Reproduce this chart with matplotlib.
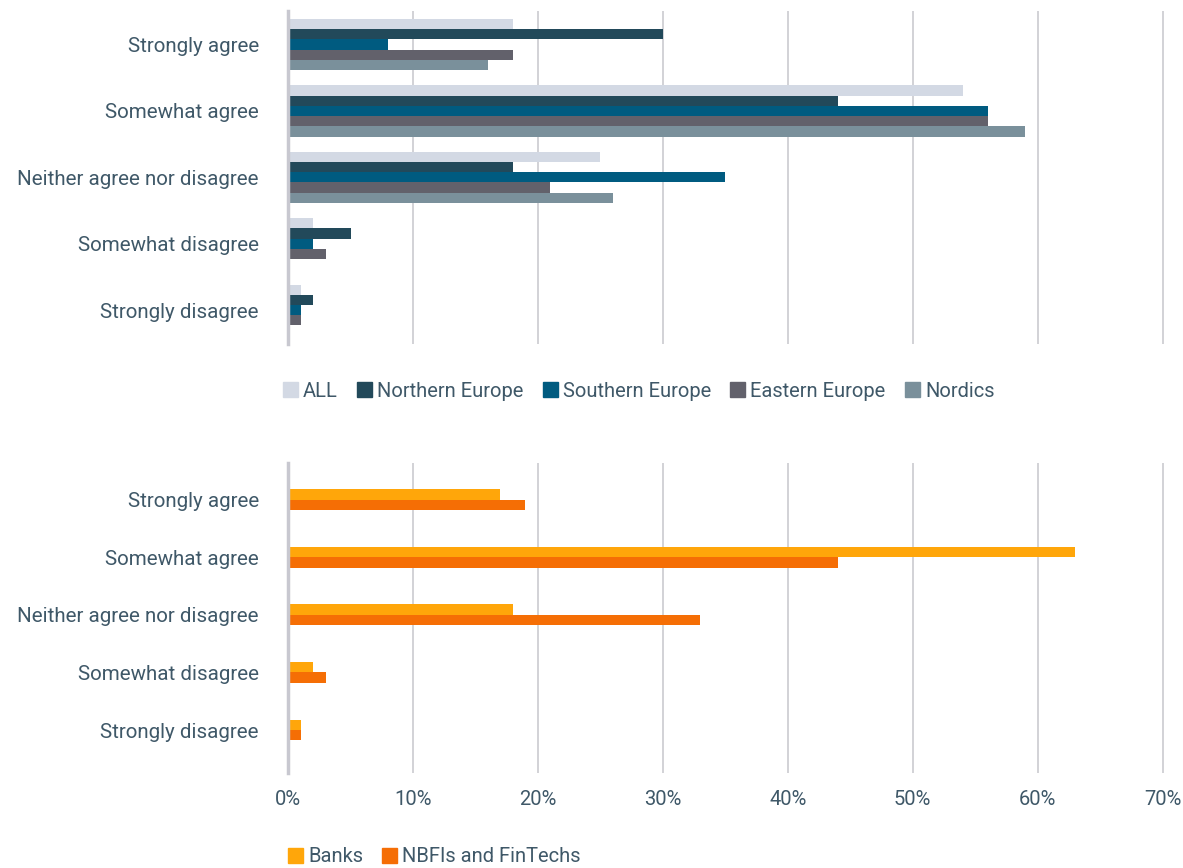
import numpy as np
import matplotlib.pyplot as plt
from matplotlib.patches import Patch

categories = ['Strongly agree', 'Somewhat agree', 'Neither agree nor disagree',
              'Somewhat disagree', 'Strongly disagree']

# top panel: by region (%)
region_names = ['ALL', 'Northern Europe', 'Southern Europe', 'Eastern Europe', 'Nordics']
all_vals = [18, 54, 25, 2, 1]
northern = [30, 44, 18, 5, 2]
southern = [8, 56, 35, 2, 1]
eastern = [18, 56, 21, 3, 1]
nordics = [16, 59, 26, 0, 0]
region_colors = ['#d3d9e4', '#22495a', '#005b80', '#62616b', '#7a909b']

# bottom panel: by institution type (%)
inst_names = ['Banks', 'NBFIs and FinTechs']
banks = [17, 63, 18, 2, 1]
nbfi = [19, 44, 33, 3, 1]
inst_colors = ['#ffa60a', '#f56e05']

TEXT = '#3f5868'
GRID = '#d2d2d6'
plt.rcParams['font.family'] = ['Roboto', 'DejaVu Sans']

fig = plt.figure(figsize=(11.83, 8.68), dpi=100)
ax1 = fig.add_axes([0.2435, 0.6037, 0.7413, 0.3836])
ax2 = fig.add_axes([0.2435, 0.1094, 0.7413, 0.3571])


def style(ax, ylim, show_x):
    ax.set_xlim(0, 70.2)
    ax.set_ylim(*ylim)
    ax.set_xticks(np.arange(0, 71, 10))
    ax.set_xticklabels([f'{v}%' for v in range(0, 71, 10)] if show_x else [])
    ax.set_yticks(range(len(categories)))
    ax.set_yticklabels(categories)
    ax.tick_params(length=0, labelcolor=TEXT)
    ax.tick_params(axis='y', pad=21, labelsize=14.8)
    ax.tick_params(axis='x', pad=12, labelsize=14.5)
    ax.grid(axis='x', color=GRID, linewidth=1.4)
    ax.set_axisbelow(True)
    for s in ['top', 'right', 'bottom']:
        ax.spines[s].set_visible(False)
    ax.spines['left'].set_color('#c8c8d0')
    ax.spines['left'].set_linewidth(2.5)
    ax.spines['left'].set_zorder(5)


y = np.arange(len(categories))

# top chart
h1 = 0.154
series = [all_vals, northern, southern, eastern, nordics]
for i, (vals, col) in enumerate(zip(series, region_colors)):
    ax1.barh(y + (i - 2) * h1, vals, height=h1, color=col)
style(ax1, (4.51, -0.505), False)

# bottom chart
h2 = 0.18
for i, (vals, col) in enumerate(zip([banks, nbfi], inst_colors)):
    ax2.barh(y + (i - 0.5) * h2, vals, height=h2, color=col)
style(ax2, (4.747, -0.634), True)

leg_kw = dict(frameon=False, fontsize=14.5, labelcolor=TEXT, handlelength=0.75,
              handleheight=0.75, handletextpad=0.25, columnspacing=0.95,
              borderaxespad=0, borderpad=0)
fig.legend(handles=[Patch(color=c, label=n) for c, n in zip(region_colors, region_names)],
           ncol=5, loc='center left', bbox_to_anchor=(283 / 1183, 1 - 391 / 868), **leg_kw)
fig.legend(handles=[Patch(color=c, label=n) for c, n in zip(inst_colors, inst_names)],
           ncol=2, loc='center left', bbox_to_anchor=(288 / 1183, 1 - 857 / 868), **leg_kw)

fig.savefig('out.png', dpi=100)
